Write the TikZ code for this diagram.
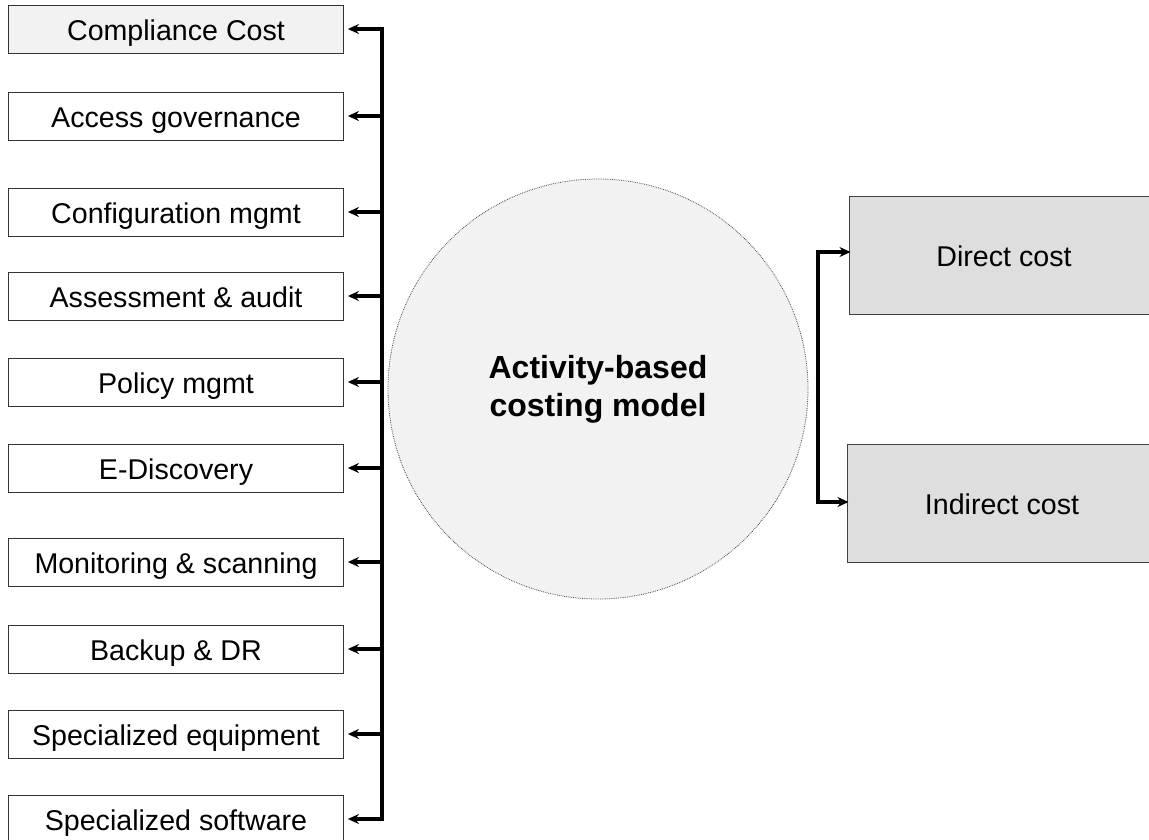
\documentclass[tikz,border=0pt]{standalone}
\usepackage{fontspec}
\setmainfont{Liberation Sans}
\usepackage{tikz}
\usetikzlibrary{arrows.meta}

\begin{document}
\begin{tikzpicture}
      [x=1pt,y=-1pt,
       activityBox/.style={rectangle,draw=black!80,line width=0.8pt,fill=white,minimum width=335pt,minimum height=48pt,inner sep=0pt,text height=23pt,text depth=0pt,font=\fontsize{28.6}{34}\selectfont},
       costBox/.style={rectangle,draw=black!75,line width=1pt,fill=black!13,minimum width=310pt,minimum height=118pt,inner sep=0pt,text height=23pt,text depth=0pt,font=\fontsize{28.6}{34}\selectfont},
       modelCircle/.style={circle,draw=black!70,densely dotted,line width=0.8pt,fill=black!5,minimum size=420pt,inner sep=0pt,align=center,font=\fontsize{32}{38}\selectfont\bfseries},
       bus/.style={line width=3.6pt,line cap=rect},
       link/.style={line width=3.6pt,-{Stealth[length=11pt,width=10pt]},shorten >=4pt},
       linkIn/.style={line width=3.6pt,-{Stealth[length=11pt,width=10pt]},shorten >=-2pt}]
      \useasboundingbox (0,0) rectangle (1149,839);
      % activities
      \node[activityBox,fill=black!5] (compliance) at (176,29) {Compliance Cost};
      \node[activityBox] (access) at (176,116) {Access governance};
      \node[activityBox] (configuration) at (176,212) {Configuration mgmt};
      \node[activityBox] (assessment) at (176,296) {Assessment \& audit};
      \node[activityBox] (policy) at (176,382) {Policy mgmt};
      \node[activityBox] (discovery) at (176,468) {E-Discovery};
      \node[activityBox] (monitoring) at (176,562) {Monitoring \& scanning};
      \node[activityBox] (backup) at (176,649) {Backup \& DR};
      \node[activityBox] (equipment) at (176,734) {Specialized equipment};
      \node[activityBox] (software) at (176,819) {Specialized software};
      \node[modelCircle] (model) at (598,389) {\raisebox{-3pt}{Activity-based}\\\raisebox{-3pt}{costing model}};
      \node[costBox] (direct) at (1004,255) {Direct cost};
      \node[costBox] (indirect) at (1002,503) {Indirect cost};
      % connectors
      \coordinate (busTop) at (382,29);
      \coordinate (busBottom) at (382,819);
      \draw[bus] (busTop) -- (busBottom);
      \foreach \activity in {compliance,access,configuration,assessment,policy,discovery,monitoring,backup,equipment,software}
        \draw[link] (busTop |- \activity.east) -- (\activity.east);
      \coordinate (splitTop) at (818,252);
      \coordinate (splitBottom) at (818,502);
      \draw[bus] (splitTop) -- (splitBottom);
      \draw[linkIn] (splitTop) -- (splitTop -| direct.west);
      \draw[linkIn] (splitBottom) -- (splitBottom -| indirect.west);
\end{tikzpicture}
\end{document}
